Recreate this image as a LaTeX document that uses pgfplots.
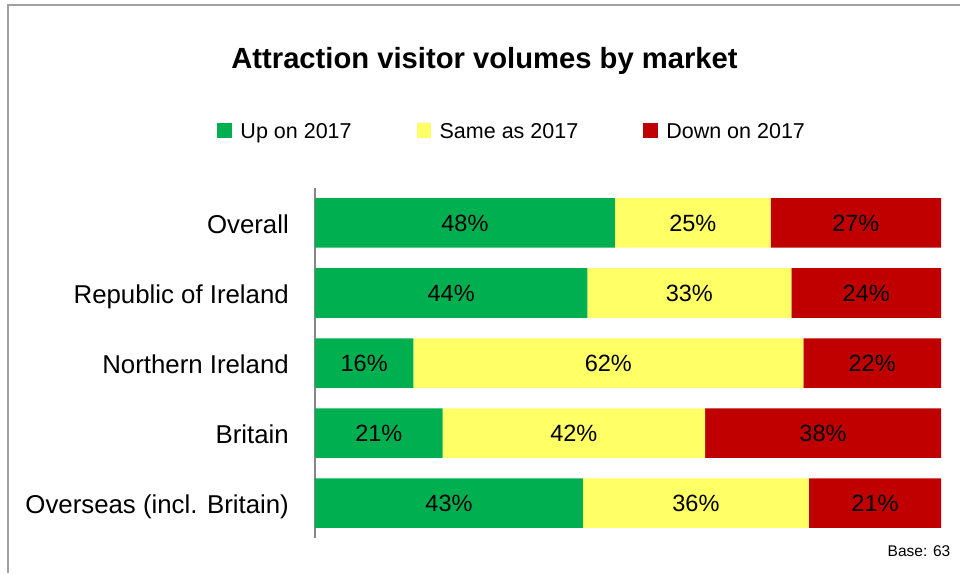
\documentclass[border=0pt]{standalone}
\usepackage{pgfplots}
\pgfplotsset{compat=1.18}
\usepackage{pgfplotstable}
\usepackage{fontspec}
\setmainfont{Liberation Sans}
\definecolor{cgreen}{HTML}{00B050}
\definecolor{cyellow}{HTML}{FFFF66}
\definecolor{cred}{HTML}{C00000}
\definecolor{frame}{HTML}{A0A0A0}
\definecolor{axisgray}{HTML}{868686}
\pgfplotstableread{
idx up upl same samel down downl
4 47.9 48 24.9 25 27.2 27
3 43.5 44 32.6 33 23.9 24
2 15.7 16 62.3 62 22.0 22
1 20.4 21 41.9 42 37.7 38
0 42.8 43 36.1 36 21.1 21
}\datatable
\begin{document}
\begin{tikzpicture}
\useasboundingbox (0pt,0pt) rectangle (960pt,573pt);
\draw[frame, line width=1.5pt] (8pt,0pt) -- (8pt,568pt) -- (960pt,568pt);
\node[anchor=base, inner sep=0pt, font=\fontsize{29.2}{34}\selectfont\bfseries] at (484.5pt,504.9pt) {Attraction visitor volumes by market};
\node[anchor=base east, inner sep=0pt, font=\fontsize{15.5}{18}\selectfont] at (950.5pt,16.3pt) {Base: 63};
\begin{axis}[
  at={(315pt,35pt)}, anchor=south west,
  scale only axis, width=626pt, height=350pt,
  xbar stacked, bar width=49.5pt,
  xmin=0, xmax=100, ymin=-0.5, ymax=4.5,
  axis x line=none,
  axis y line*=left,
  y axis line style={axisgray, line width=1.5pt, -},
  ytick={0,1,2,3,4},
  yticklabels={Overseas (incl. Britain),Britain,Northern Ireland,Republic of Ireland,Overall},
  major tick length=0pt,
  yticklabel style={font=\fontsize{25.8}{30}\selectfont, inner sep=0pt, anchor=base east, xshift=-26pt, yshift=-10.5pt},
  point meta=explicit symbolic,
  nodes near coords={\pgfplotspointmeta\%},
  every node near coord/.append style={anchor=center, inner sep=0pt, font=\fontsize{23.5}{27}\selectfont, text=black},
  legend columns=3,
  legend image code/.code={\fill[#1] (0pt,0.75pt) rectangle (14.5pt,15.25pt);},
  legend style={at={(axis description cs:-0.1561,1.1911)}, anchor=north west, draw=none, fill=none, inner sep=0pt,
    font=\fontsize{21.5}{25}\selectfont,
    cells={anchor=base west, inner sep=0pt},
    /tikz/every odd column/.append style={column sep=6.5pt},
    /tikz/every even column/.append style={column sep=63pt}},
]
\addplot[fill=cgreen, draw=none] table[x=up, y=idx, meta=upl] {\datatable};
\addlegendentry{Up on 2017}
\addplot[fill=cyellow, draw=none] table[x=same, y=idx, meta=samel] {\datatable};
\addlegendentry{Same as 2017}
\addplot[fill=cred, draw=none] table[x=down, y=idx, meta=downl] {\datatable};
\addlegendentry{Down on 2017}
\end{axis}
\end{tikzpicture}
\end{document}
